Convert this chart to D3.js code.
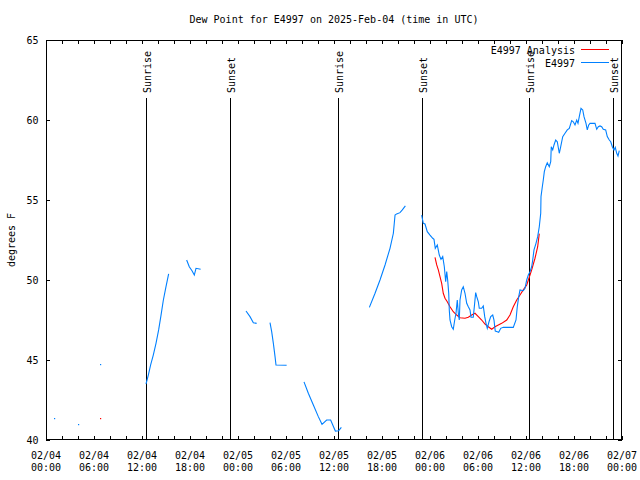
<!DOCTYPE html>
<html><head><meta charset="utf-8">
<script src="https://cdn.jsdelivr.net/npm/d3@7"></script>
<style>
html,body{margin:0;padding:0;background:#fff;}
text{font-family:"DejaVu Sans Mono",monospace;font-size:10px;fill:#000;}
</style></head>
<body><svg id="c" width="640" height="480"></svg>
<script>
// hours since 2025-02-04 00:00 UTC; null = gap in data
const obsHours = [
1.04, null,
4.04, null,
6.75, null,
12.5, 12.79, 13.08, 13.41, 13.75, 14.08, 14.38, 14.67, 15.0, 15.33, null,
17.58, 17.91, 18.25, 18.54, 18.75, 19.33, null,
25.0, 25.5, 25.92, 26.33, null,
28.0, 28.21, 28.42, 28.63, 28.75, 30.08, null,
32.25, 32.79, 33.42, 34.04, 34.5, 35.08, 35.58, 36.17, 36.58, 36.92, null,
40.42, 41.13, 41.75, 42.38, 43.0, 43.42, 43.63, 43.83, 44.25, 44.54, 44.92, null,
46.96, 47.16, 47.375, 47.66, 48.0, 48.34, 48.5, 48.66, 48.91, 49.16, 49.375, 49.59, 49.79, 49.96, 50.09, 50.21, 50.34, 50.41, 50.5, 50.71,
50.91, 51.09, 51.25, 51.41, 51.54, 51.66, 51.75, 51.96, 52.16, 52.375, 52.59, 52.79, 53.0, 53.125, 53.41, 53.54, 53.71, 53.84, 54.04, 54.16,
54.46, 54.66, 54.84, 55.0, 55.16, 55.375, 55.59, 55.84, 56.0, 56.09, 56.16, 56.41, 56.59, 56.84, 57.16, 58.0, 58.41, 58.75, 58.91, 59.09,
59.25, 59.66, 59.875, 60.09, 60.29, 60.5, 60.71, 60.84, 61.0, 61.25, 61.46, 61.66, 61.84, 61.875, 62.04, 62.16, 62.29, 62.46, 62.66, 62.91,
63.09, 63.16, 63.34, 63.5, 63.71, 63.91, 64.16, 64.34, 64.59, 64.875, 65.16, 65.41, 65.71, 65.91, 66.125, 66.34, 66.5, 66.66, 66.875, 67.09,
67.25, 67.5, 67.66, 67.84, 68.0, 68.625, 68.84, 69.04, 69.25, 69.46, 69.66, 69.96, 70.16, 70.41, 70.59, 70.79, 71.0, 71.16, 71.34, 71.5, 71.66
];
const obsDew = [
41.36, null,
40.98, null,
44.75, null,
43.5, 44.06, 44.69, 45.31, 46.04, 46.88, 47.81, 48.75, 49.58, 50.38, null,
51.25, 50.83, 50.58, 50.31, 50.73, 50.67, null,
48.06, 47.71, 47.33, 47.29, null,
47.33, 46.77, 46.04, 45.21, 44.69, 44.67, null,
43.63, 42.92, 42.19, 41.46, 40.98, 41.25, 41.25, 40.56, 40.58, 40.79, null,
48.29, 49.17, 50.0, 50.94, 51.98, 52.92, 54.06, 54.13, 54.21, 54.38, 54.63, null,
54.06, 53.54, 53.5, 53.02, 52.81, 52.61, 52.54, 51.98, 52.19, 51.56, 51.29, 51.46, 50.83, 49.89, 50.52, 50.0, 49.17, 48.13, 47.5, 47.08,
46.92, 47.5, 47.92, 48.75, 47.92, 47.5, 48.75, 49.38, 49.58, 49.17, 48.54, 48.33, 48.13, 47.67, 47.67, 48.33, 49.21, 48.96, 48.64, 48.23,
48.23, 48.38, 47.71, 47.29, 46.98, 47.39, 47.71, 47.81, 47.5, 47.08, 46.81, 46.77, 46.73, 46.98, 47.04, 47.04, 47.04, 47.5, 48.33, 48.96,
49.38, 49.33, 49.48, 50.0, 50.31, 50.52, 50.83, 51.25, 51.88, 52.29, 52.71, 53.33, 54.17, 55.21, 55.83, 56.25, 56.77, 57.08, 57.33, 57.08,
57.39, 58.33, 58.13, 58.44, 58.75, 58.64, 57.92, 58.33, 58.96, 59.17, 59.38, 59.48, 59.96, 59.89, 59.69, 60.0, 59.79, 60.21, 60.73, 60.63,
60.21, 59.79, 59.38, 59.69, 59.79, 59.79, 59.42, 59.58, 59.63, 59.58, 59.42, 59.38, 58.96, 58.75, 58.64, 58.33, 58.13, 58.29, 57.92, 57.75, 58.08
];
const anaHours = [
6.79, null,
48.625, 48.84, 49.04, 49.25, 49.46, 49.66, 49.875, 50.16, 50.5, 50.91, 51.34, 51.75, 52.375, 52.79, 53.21, 53.625, 54.04, 54.46, 54.875, 55.29,
55.71, 56.125, 56.54, 56.96, 57.59, 58.0, 58.41, 58.84, 59.25, 59.66, 60.09, 60.5, 60.71, 61.125, 61.46, 61.66
];
const anaDew = [
41.36, null,
51.42, 50.94, 50.63, 50.21, 49.79, 49.17, 48.86, 48.64, 48.33, 48.02, 47.81, 47.64, 47.61, 47.67, 47.81, 47.92, 47.71, 47.5, 47.25, 47.08,
46.92, 47.08, 47.19, 47.29, 47.5, 47.81, 48.33, 48.75, 49.06, 49.38, 49.69, 50.31, 50.63, 51.36, 52.08, 52.9
];
const sunEvents = ["Sunrise", "Sunset", "Sunrise", "Sunset", "Sunrise", "Sunset"];
const sunHours = [12.5, 22.94, 36.54, 46.96, 60.41, 70.91];
const yTicks = [40, 45, 50, 55, 60, 65];
const seriesNames = ["E4997 Analysis", "E4997"];
const seriesColors = ["#ff0000", "#0080ff"];
const titleText = "Dew Point for E4997 on 2025-Feb-04 (time in UTC)";
const yLabel = "degrees F";

const t0 = Date.UTC(2025, 1, 4, 0, 0);
const toDate = h => new Date(t0 + h * 3600e3);

const svg = d3.select("#c");
const L = 46, R = 622, T = 40, B = 440;
const x = d3.scaleUtc().domain([toDate(0), toDate(72)]).range([L, R]);
const y = d3.scaleLinear().domain([40, 65]).range([B, T]);

// title
svg.append("text").attr("x", 334).attr("y", 23).attr("text-anchor", "middle").text(titleText);

// ticks
const g = svg.append("g").attr("stroke", "#000").attr("stroke-width", 1).attr("shape-rendering", "crispEdges");
const xt = d3.utcHour.every(2).range(toDate(0), toDate(72.01));
xt.forEach(d => {
  const px = Math.round(x(d)) + 0.5;
  g.append("line").attr("x1", px).attr("x2", px).attr("y1", B).attr("y2", B - 4);
  g.append("line").attr("x1", px).attr("x2", px).attr("y1", T).attr("y2", T + 4);
});
yTicks.forEach(v => {
  const py = Math.round(y(v)) + 0.5;
  g.append("line").attr("x1", L).attr("x2", L + 4).attr("y1", py).attr("y2", py);
  g.append("line").attr("x1", R).attr("x2", R - 4).attr("y1", py).attr("y2", py);
});

// tick labels
const fmtD = d3.utcFormat("%m/%d"), fmtT = d3.utcFormat("%H:%M");
d3.utcHour.every(6).range(toDate(0), toDate(72.01)).forEach(d => {
  const px = x(d);
  svg.append("text").attr("x", px).attr("y", 458.5).attr("text-anchor", "middle").text(fmtD(d));
  svg.append("text").attr("x", px).attr("y", 470.5).attr("text-anchor", "middle").text(fmtT(d));
});
yTicks.forEach(v => {
  svg.append("text").attr("x", 38.5).attr("y", y(v) + 4).attr("text-anchor", "end").text(v);
});
svg.append("text").attr("transform", "translate(15,240) rotate(-90)").attr("text-anchor", "middle").text(yLabel);

// sunrise / sunset
sunHours.forEach((h, i) => {
  const px = Math.round(x(toDate(h))) + 0.5;
  g.append("line").attr("x1", px).attr("x2", px).attr("y1", 98).attr("y2", B);
  svg.append("text").attr("transform", `translate(${px + 4},93) rotate(-90)`).attr("text-anchor", "start").text(sunEvents[i]);
});

// series
function drawSeries(hours, vals, color) {
  const pts = hours.map((h, i) => h == null || vals[i] == null ? null : [x(toDate(h)), y(vals[i])]);
  const line = d3.line().defined(p => p != null).x(p => p[0]).y(p => p[1]);
  svg.append("path").datum(pts).attr("d", line).attr("fill", "none").attr("stroke", color).attr("stroke-width", 1.1);
  pts.forEach((p, i) => {
    if (p && !pts[i - 1] && !pts[i + 1]) {
      svg.append("rect").attr("x", Math.floor(p[0])).attr("y", Math.floor(p[1])).attr("width", 1.2).attr("height", 1.2).attr("fill", color);
    }
  });
}
drawSeries(anaHours, anaDew, seriesColors[0]);
drawSeries(obsHours, obsDew, seriesColors[1]);

// frame
svg.append("rect").attr("x", L + 0.5).attr("y", T + 0.5).attr("width", R - L - 1).attr("height", B - T - 1)
  .attr("fill", "none").attr("stroke", "#000").attr("shape-rendering", "crispEdges");

// legend
seriesNames.forEach((n, i) => {
  const ly = 49.5 + i * 13;
  svg.append("text").attr("x", 575).attr("y", ly + 4).attr("text-anchor", "end").text(n);
  svg.append("line").attr("x1", 581).attr("x2", 609).attr("y1", ly).attr("y2", ly)
    .attr("stroke", seriesColors[i]).attr("shape-rendering", "crispEdges");
});
</script></body></html>
